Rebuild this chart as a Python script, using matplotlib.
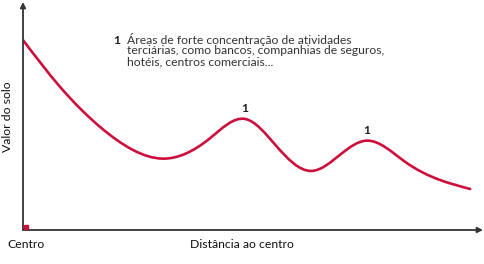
import matplotlib.pyplot as plt
import numpy as np
from matplotlib.path import Path
from matplotlib.patches import PathPatch

# distance from centre (0-100) and land value (0-100)
distance = [0.0, 8.0, 16.7, 24.0, 30.4, 40.5, 48.3, 55.0, 62.6,
            69.3, 74.7, 83.0, 90.7, 97.2]
value = [83.3, 62.9, 45.3, 35.0, 31.3, 40.0, 48.7, 37.0, 25.9,
         33.6, 39.2, 30.0, 21.9, 18.0]

peak_distance = [48.3, 74.7]
peak_value = [48.7, 39.2]
peak_labels = ["1", "1"]

note_lines = [
    "Áreas de forte concentração de atividades",
    "terciárias, como bancos, companhias de seguros,",
    "hotéis, centros comerciais...",
]

RED = "#cc0f3c"
AXIS = "#333333"

plt.rcParams["font.family"] = ["Lato", "DejaVu Sans"]

fig = plt.figure(figsize=(4.85, 2.64), dpi=100)
ax = fig.add_axes([23 / 485, 34 / 264, 460 / 485, 228 / 264])
ax.set_xlim(0, 100)
ax.set_ylim(0, 100)
ax.axis("off")


def smooth_path(xs, ys):
    # natural cubic spline slopes, drawn as cubic Bezier segments
    x = np.asarray(xs, dtype=float)
    y = np.asarray(ys, dtype=float)
    n = len(x)
    h = np.diff(x)
    d = np.diff(y) / h
    A = np.zeros((n, n))
    b = np.zeros(n)
    A[0, 0], A[0, 1], b[0] = 2, 1, 3 * d[0]
    A[-1, -2], A[-1, -1], b[-1] = 1, 2, 3 * d[-1]
    for i in range(1, n - 1):
        A[i, i - 1] = h[i]
        A[i, i] = 2 * (h[i - 1] + h[i])
        A[i, i + 1] = h[i - 1]
        b[i] = 3 * (h[i] * d[i - 1] + h[i - 1] * d[i])
    m = np.linalg.solve(A, b)
    verts = [(x[0], y[0])]
    codes = [Path.MOVETO]
    for i in range(n - 1):
        verts += [
            (x[i] + h[i] / 3, y[i] + m[i] * h[i] / 3),
            (x[i + 1] - h[i] / 3, y[i + 1] - m[i + 1] * h[i] / 3),
            (x[i + 1], y[i + 1]),
        ]
        codes += [Path.CURVE4] * 3
    return Path(verts, codes)


ax.add_patch(
    PathPatch(
        smooth_path(distance, value),
        facecolor="none",
        edgecolor=RED,
        linewidth=1.9,
        capstyle="round",
        zorder=3,
    )
)

# axes with arrows
ax.annotate("", xy=(100, 0), xytext=(0, 0),
            arrowprops=dict(arrowstyle="-|>", color=AXIS, lw=1.3,
                            mutation_scale=8, shrinkA=0, shrinkB=0))
ax.annotate("", xy=(0, 100), xytext=(0, 0),
            arrowprops=dict(arrowstyle="-|>", color=AXIS, lw=1.3,
                            mutation_scale=8, shrinkA=0, shrinkB=0))
ax.plot([0.6], [1.2], marker="s", markersize=3.5, color=RED,
        clip_on=False, zorder=4)

for x, y, lab in zip(peak_distance, peak_value, peak_labels):
    ax.annotate(lab, xy=(x, y), xytext=(0, 3.5), textcoords="offset points",
                ha="center", va="bottom", fontsize=8.7, fontweight="bold",
                color="#222222")

fig.text(113 / 485, 1 - 40 / 264, "1", fontsize=8.7, fontweight="bold",
         color="#222222", va="center", ha="left")
for i, line in enumerate(note_lines):
    fig.text(127 / 485, 1 - (40 + 11 * i) / 264, line, fontsize=8.7,
             color="#333333", va="center", ha="left")

fig.text(7 / 485, 1 - 244 / 264, "Centro", fontsize=8.8, color="#111111",
         va="center", ha="left")
fig.text(190 / 485, 1 - 244 / 264, "Distância ao centro", fontsize=8.8,
         color="#111111", va="center", ha="left")
fig.text(8 / 485, 1 - 117 / 264, "Valor do solo", fontsize=8.8,
         color="#111111", va="center", ha="center", rotation=90)

fig.savefig("out.png", dpi=100)
